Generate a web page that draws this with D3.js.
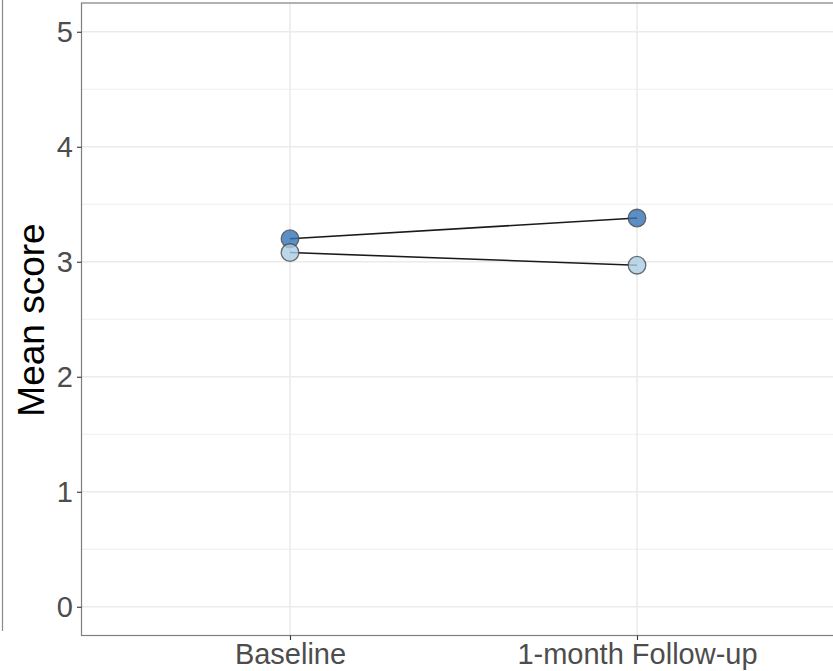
<!DOCTYPE html>
<html>
<head>
<meta charset="utf-8">
<script src="https://cdn.jsdelivr.net/npm/d3@7"></script>
<style>
  html, body { margin: 0; padding: 0; background: #fff; }
  svg { display: block; }
</style>
</head>
<body>
<svg id="chart" width="833" height="671"></svg>
<script>
const timepoints = ["Baseline", "1-month Follow-up"];
const groups = ["Group A", "Group B"];
const groupA = [3.20, 3.38];
const groupB = [3.08, 2.97];
const groupColors = ["#3673B5", "#ABCCE5"];
const yTicks = [0, 1, 2, 3, 4, 5];
const yMinor = [0.5, 1.5, 2.5, 3.5, 4.5];
const yTitle = "Mean score";

const W = 833, H = 671;
const panel = { left: 81.5, top: 3, right: 845, bottom: 635.5 };

const svg = d3.select("#chart");

const x = d3.scalePoint().domain(timepoints).range([290, 637]);
const y = d3.scaleLinear().domain([-0.25, 5.25]).range([panel.bottom, panel.top]);

// neighbouring panel edge (cut off at left)
svg.append("line")
  .attr("x1", 2.5).attr("x2", 2.5).attr("y1", -5).attr("y2", 631)
  .attr("stroke", "#8a8a8a").attr("stroke-width", 1.2);

const g = svg.append("g");

// minor grid
g.selectAll(".ymin").data(yMinor).join("line")
  .attr("x1", panel.left).attr("x2", panel.right)
  .attr("y1", d => y(d)).attr("y2", d => y(d))
  .attr("stroke", "#EBEBEB").attr("stroke-width", 0.8);
// major grid
g.selectAll(".ymaj").data(yTicks).join("line")
  .attr("x1", panel.left).attr("x2", panel.right)
  .attr("y1", d => y(d)).attr("y2", d => y(d))
  .attr("stroke", "#EBEBEB").attr("stroke-width", 1.6);
g.selectAll(".xmaj").data(timepoints).join("line")
  .attr("x1", d => x(d)).attr("x2", d => x(d))
  .attr("y1", panel.top).attr("y2", panel.bottom)
  .attr("stroke", "#EBEBEB").attr("stroke-width", 1.6);

// series
const series = [groupA, groupB];
const line = d3.line().x((d, i) => x(timepoints[i])).y(d => y(d));
series.forEach((s, k) => {
  g.append("path").datum(s)
    .attr("d", line)
    .attr("fill", "none").attr("stroke", "#1a1a1a").attr("stroke-width", 1.6);
});
series.forEach((s, k) => {
  g.selectAll(".pt" + k).data(s).join("circle")
    .attr("cx", (d, i) => x(timepoints[i]))
    .attr("cy", d => y(d))
    .attr("r", 8.8)
    .attr("fill", groupColors[k]).attr("fill-opacity", 0.8)
    .attr("stroke", "#4a4a4a").attr("stroke-opacity", 0.8).attr("stroke-width", 1.3);
});

// panel border
svg.append("rect")
  .attr("x", panel.left).attr("y", panel.top)
  .attr("width", panel.right - panel.left).attr("height", panel.bottom - panel.top)
  .attr("fill", "none").attr("stroke", "#7f7f7f").attr("stroke-width", 1.2);

// y axis
const yAxis = d3.axisLeft(y).tickValues(yTicks).tickSize(4.5).tickPadding(4).tickFormat(d3.format("d"));
const ya = svg.append("g").attr("transform", `translate(${panel.left},0)`).call(yAxis);
ya.select(".domain").remove();
ya.selectAll(".tick line").attr("stroke", "#333").attr("stroke-width", 1.1);
ya.selectAll(".tick text").attr("fill", "#4D4D4D")
  .style("font-family", "Liberation Sans, Arial, sans-serif").style("font-size", "29px");

// x axis
const xAxis = d3.axisBottom(x).tickSize(4.5).tickPadding(3);
const xa = svg.append("g").attr("transform", `translate(0,${panel.bottom})`).call(xAxis);
xa.select(".domain").remove();
xa.selectAll(".tick line").attr("stroke", "#333").attr("stroke-width", 1.1);
xa.selectAll(".tick text").attr("fill", "#4D4D4D")
  .style("font-family", "Liberation Sans, Arial, sans-serif").style("font-size", "29px");

// y title
svg.append("text")
  .attr("transform", `translate(44,320) rotate(-90)`)
  .attr("text-anchor", "middle")
  .attr("fill", "#000")
  .style("font-family", "Liberation Sans, Arial, sans-serif").style("font-size", "37px")
  .text(yTitle);
</script>
</body>
</html>
